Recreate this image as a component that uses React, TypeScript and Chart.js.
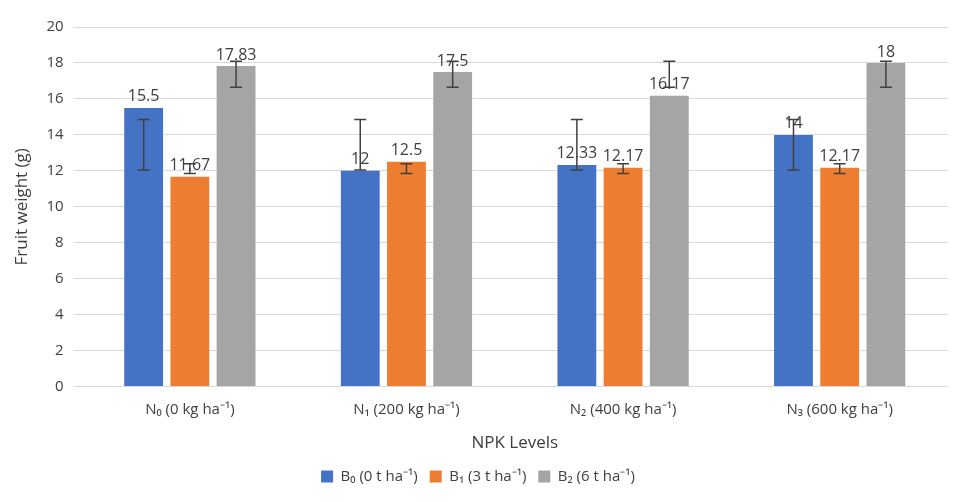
import React, { useEffect, useRef } from "react";
import { Chart, registerables } from "chart.js";
Chart.register(...registerables);

const categories = ["N₀ (0 kg ha⁻¹)", "N₁ (200 kg ha⁻¹)", "N₂ (400 kg ha⁻¹)", "N₃ (600 kg ha⁻¹)"];
const seriesNames = ["B₀ (0 t ha⁻¹)", "B₁ (3 t ha⁻¹)", "B₂ (6 t ha⁻¹)"];
const b0 = [15.5, 12, 12.33, 14];
const b1 = [11.67, 12.5, 12.17, 12.17];
const b2 = [17.83, 17.5, 16.17, 18];
const errLow = [
  [12.05, 12.05, 12.05, 12.05],
  [11.85, 11.85, 11.85, 11.85],
  [16.65, 16.65, 16.65, 16.65],
];
const errHigh = [
  [14.85, 14.85, 14.85, 14.85],
  [12.4, 12.4, 12.4, 12.4],
  [18.1, 18.1, 18.1, 18.1],
];
const colors = ["#4472C4", "#ED7D31", "#A5A5A5"];
const FONT = "'Open Sans', sans-serif";

const overlay = {
  id: "overlay",
  afterDatasetsDraw(chart: any) {
    const ctx = chart.ctx;
    const y = chart.scales.y;
    chart.data.datasets.forEach((ds: any, di: number) => {
      const meta = chart.getDatasetMeta(di);
      meta.data.forEach((bar: any, i: number) => {
        const x = bar.x;
        const yl = y.getPixelForValue(errLow[di][i]);
        const yh = y.getPixelForValue(errHigh[di][i]);
        ctx.save();
        ctx.strokeStyle = "#404040";
        ctx.lineWidth = 1.5;
        ctx.beginPath();
        ctx.moveTo(x, yl); ctx.lineTo(x, yh);
        ctx.moveTo(x - 6, yl); ctx.lineTo(x + 6, yl);
        ctx.moveTo(x - 6, yh); ctx.lineTo(x + 6, yh);
        ctx.stroke();
        ctx.fillStyle = "#404040";
        ctx.font = `16px ${FONT}`;
        ctx.textAlign = "center";
        ctx.textBaseline = "bottom";
        ctx.fillText(String(ds.data[i]), x, bar.y - 3);
        ctx.restore();
      });
    });
  },
};

export default function App() {
  const ref = useRef<HTMLCanvasElement>(null);
  useEffect(() => {
    const chart = new Chart(ref.current!, {
      type: "bar",
      data: {
        labels: categories,
        datasets: [b0, b1, b2].map((d, i) => ({
          label: seriesNames[i],
          data: d,
          backgroundColor: colors[i],
          categoryPercentage: 0.64,
          barPercentage: 0.84,
        })),
      },
      options: {
        animation: false,
        responsive: false,
        layout: { padding: { top: 0, right: 8, bottom: 0, left: 0 } },
        plugins: {
          legend: {
            position: "bottom",
            labels: { boxWidth: 12, boxHeight: 12, color: "#404040", font: { family: FONT, size: 15 }, padding: 12 },
          },
          tooltip: { enabled: false },
        },
        scales: {
          x: {
            grid: { display: false },
            border: { color: "#d9d9d9" },
            ticks: { color: "#404040", font: { family: FONT, size: 15 }, padding: 6 },
            title: { display: true, text: "NPK Levels", color: "#404040", font: { family: FONT, size: 17 }, padding: { top: 8, bottom: 4 } },
          },
          y: {
            min: 0, max: 20,
            ticks: { stepSize: 2, color: "#404040", font: { family: FONT, size: 15 }, padding: 10 },
            grid: { color: "#d9d9d9" },
            border: { display: false },
            title: { display: true, text: "Fruit weight (g)", color: "#404040", font: { family: FONT, size: 17 } },
          },
        },
      },
      plugins: [overlay],
    });
    return () => chart.destroy();
  }, []);
  return <canvas ref={ref} width={948} height={486} />;
}
